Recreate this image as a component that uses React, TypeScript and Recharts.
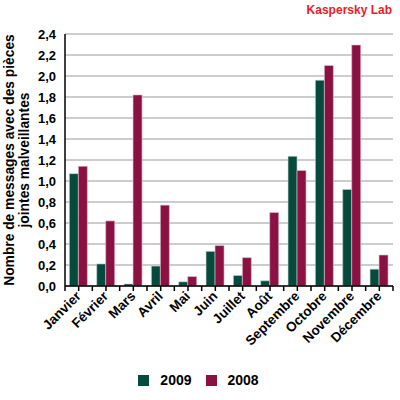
import { BarChart, Bar, XAxis, YAxis, CartesianGrid, Legend } from 'recharts';

const months = [
  'Janvier', 'Février', 'Mars', 'Avril', 'Mai', 'Juin',
  'Juillet', 'Août', 'Septembre', 'Octobre', 'Novembre', 'Décembre',
];
const values2009 = [1.07, 0.21, 0.02, 0.19, 0.04, 0.33, 0.1, 0.05, 1.235, 1.96, 0.92, 0.16];
const values2008 = [1.14, 0.62, 1.82, 0.77, 0.09, 0.385, 0.27, 0.7, 1.1, 2.1, 2.295, 0.295];
const yTicks = [0, 0.2, 0.4, 0.6, 0.8, 1.0, 1.2, 1.4, 1.6, 1.8, 2.0, 2.2, 2.4];

const data = months.map((m, i) => ({ month: m, y2009: values2009[i], y2008: values2008[i] }));

const GREEN = '#054a3c';
const MAROON = '#8b1142';
const FONT = '"Liberation Sans", Arial, sans-serif';

const W = 400;
const H = 400;
const LEFT = 65;
const RIGHT = 7;
const BAND = (W - LEFT - RIGHT) / months.length;

// month label rotated -45deg plus the boundary tick marks between categories
function MonthTick(props: any) {
  const { x, y, payload, index } = props;
  return (
    <g>
      <line x1={x + BAND / 2} y1={y - 5} x2={x + BAND / 2} y2={y} stroke="#000" strokeWidth={1.5} />
      {index === 0 && (
        <line x1={x - BAND / 2} y1={y - 5} x2={x - BAND / 2} y2={y} stroke="#000" strokeWidth={1.5} />
      )}
      <text
        x={x + 3}
        y={y + 6}
        textAnchor="end"
        transform={`rotate(-45, ${x + 3}, ${y + 6})`}
        fontFamily={FONT}
        fontWeight="bold"
        fontSize={13.5}
        fill="#000"
      >
        {payload.value}
      </text>
    </g>
  );
}

function LegendContent() {
  const items = [
    { label: '2009', color: GREEN },
    { label: '2008', color: MAROON },
  ];
  return (
    <div style={{ display: 'flex', justifyContent: 'center', gap: 14, fontFamily: FONT, fontWeight: 'bold', fontSize: 14, marginLeft: 4, paddingTop: 6 }}>
      {items.map((it) => (
        <div key={it.label} style={{ display: 'flex', alignItems: 'center', gap: 11 }}>
          <span style={{ display: 'inline-block', width: 11, height: 11, background: it.color }} />
          <span>{it.label}</span>
        </div>
      ))}
    </div>
  );
}

export default function App() {
  return (
    <div style={{ position: 'absolute', left: 0, top: 0, width: W, height: H, background: '#fff' }}>
      <BarChart
        width={W}
        height={H}
        data={data}
        margin={{ top: 34, right: RIGHT, left: 0, bottom: 0 }}
        barCategoryGap="16%"
        barGap={0}
      >
        <CartesianGrid vertical={false} stroke="#bbbbbb" strokeWidth={1.5} />
        <XAxis
          dataKey="month"
          interval={0}
          height={80}
          tickSize={5}
          tickMargin={0}
          tick={<MonthTick />}
          axisLine={{ stroke: '#000', strokeWidth: 1.5 }}
          tickLine={{ stroke: '#000', strokeWidth: 1.5 }}
        />
        <YAxis
          width={LEFT}
          domain={[0, 2.4]}
          ticks={yTicks}
          interval={0}
          tickFormatter={(v: number) => v.toFixed(1).replace('.', ',')}
          tickLine={false}
          tickMargin={3}
          axisLine={{ stroke: '#000', strokeWidth: 1.5 }}
          tick={{ fill: '#000', fontSize: 13, fontWeight: 'bold', fontFamily: FONT }}
        />
        <Legend verticalAlign="bottom" height={34} content={<LegendContent />} />
        <Bar dataKey="y2009" name="2009" fill={GREEN} stroke="#c8d4d0" strokeWidth={0.6} isAnimationActive={false} />
        <Bar dataKey="y2008" name="2008" fill={MAROON} stroke="#dcc4cd" strokeWidth={0.6} isAnimationActive={false} />
      </BarChart>
      <svg width={W} height={H} style={{ position: 'absolute', left: 0, top: 0, pointerEvents: 'none' }}>
        <text x={392} y={14} textAnchor="end" fontFamily={FONT} fontWeight="bold" fontSize={12} fill="#e8202a">
          Kaspersky Lab
        </text>
        <text
          transform="translate(14, 160) rotate(-90)"
          textAnchor="middle"
          fontFamily={FONT}
          fontWeight="bold"
          fontSize={13.8}
          fill="#000"
        >
          <tspan x={0} y={0}>Nombre de messages avec des pièces</tspan>
          <tspan x={0} y={15}>jointes malveillantes</tspan>
        </text>
      </svg>
    </div>
  );
}
